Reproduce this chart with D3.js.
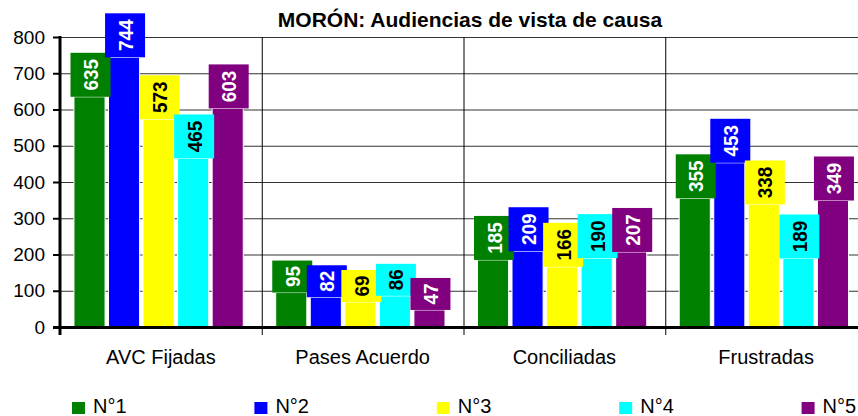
<!DOCTYPE html>
<html>
<head>
<meta charset="utf-8">
<script src="https://cdn.jsdelivr.net/npm/d3@7"></script>
<style>
  html, body { margin: 0; padding: 0; background: #fff; }
  svg { display: block; font-family: "Liberation Sans", Arial, sans-serif; }
</style>
</head>
<body>
<div id="chart"></div>
<script>
// MORÓN: Audiencias de vista de causa — grouped bars with boxed labels

const categories = ["AVC Fijadas", "Pases Acuerdo", "Conciliadas", "Frustradas"];
const seriesNames = ["N°1", "N°2", "N°3", "N°4", "N°5"];
const seriesColors = ["#008000", "#0000ff", "#ffff00", "#00ffff", "#800080"];
const labelColors = ["#fff", "#fff", "#000", "#000", "#fff"];
const values = [
    [635, 95, 185, 355],
    [744, 82, 209, 453],
    [573, 69, 166, 338],
    [465, 86, 190, 189],
    [603, 47, 207, 349],
];
const yTicks = [0, 100, 200, 300, 400, 500, 600, 700, 800];

const width = 858;
const height = 416;
const plot = { left: 60, right: 867, top: 37, bottom: 327 };

const svg = d3.select("#chart")
    .append("svg")
    .attr("width", width)
    .attr("height", height);

const x0 = d3.scaleBand()
    .domain(categories)
    .range([plot.left, plot.right])
    .paddingInner(0)
    .paddingOuter(0);

const x1 = d3.scaleBand()
    .domain(seriesNames)
    .range([0, x0.bandwidth()])
    .paddingInner(0.1)
    .paddingOuter(0.47)
    .align(0.43);

const y = d3.scaleLinear()
    .domain([0, 800])
    .range([plot.bottom, plot.top]);

// Horizontal gridlines
svg.append("g")
    .selectAll("line")
    .data(yTicks.filter((d) => d > 0))
    .join("line")
    .attr("x1", plot.left).attr("x2", width)
    .attr("y1", (d) => y(d) + 0.5).attr("y2", (d) => y(d) + 0.5)
    .attr("stroke", "#333")
    .attr("stroke-width", 1);

// Vertical category separators (x-axis ticks extended)
const bounds = categories.slice(1).map((c) => x0(c));
svg.append("g")
    .selectAll("line")
    .data(bounds)
    .join("line")
    .attr("x1", (d) => d + 0.5).attr("x2", (d) => d + 0.5)
    .attr("y1", plot.top).attr("y2", plot.bottom + 8)
    .attr("stroke", "#000")
    .attr("stroke-width", 1);

// Bars
const groups = svg.append("g")
    .selectAll("g")
    .data(seriesNames)
    .join("g")
    .attr("fill", (_, i) => seriesColors[i]);

groups.selectAll("rect")
    .data((s, i) => values[i].map((v, j) => ({ s, v, c: categories[j] })))
    .join("rect")
    .attr("x", (d) => x0(d.c) + x1(d.s))
    .attr("y", (d) => y(d.v))
    .attr("width", x1.bandwidth())
    .attr("height", (d) => y(0) - y(d.v))
    .attr("stroke", "#fff")
    .attr("stroke-width", 1);

// Boxed value labels (text rotated, slightly condensed like the original)
const boxW = 40;
seriesNames.forEach((s, i) => {
    values[i].forEach((v, j) => {
        const cx = x0(categories[j]) + x1(s) + x1.bandwidth() / 2 + 1;
        const top = y(v);
        const digits = String(v).length;
        const len = digits * 10.5;
        const boxH = digits * 12 + 8;
        const lbl = svg.append("g");
        lbl.append("rect")
            .attr("fill", seriesColors[i])
            .attr("x", cx - boxW / 2)
            .attr("y", top - boxH)
            .attr("width", boxW)
            .attr("height", boxH);
        lbl.append("text")
            .attr("font-size", 21)
            .attr("font-weight", "bold")
            .attr("fill", labelColors[i])
            .attr("text-anchor", "middle")
            .attr("textLength", len)
            .attr("lengthAdjust", "spacingAndGlyphs")
            .attr("transform", `translate(${cx + 7.5},${top - boxH / 2}) rotate(-90)`)
            .text(v);
    });
});

// Y axis
svg.append("g")
    .selectAll("line")
    .data(yTicks)
    .join("line")
    .attr("x1", plot.left - 7).attr("x2", plot.left)
    .attr("y1", (d) => y(d) + 0.5).attr("y2", (d) => y(d) + 0.5)
    .attr("stroke", "#000")
    .attr("stroke-width", 2);

svg.append("g")
    .selectAll("text")
    .data(yTicks)
    .join("text")
    .attr("x", 45)
    .attr("y", (d) => y(d))
    .attr("dy", "0.35em")
    .attr("text-anchor", "end")
    .attr("font-size", 19)
    .attr("fill", "#000")
    .text((d) => d);

svg.append("line")
    .attr("x1", plot.left).attr("x2", plot.left)
    .attr("y1", plot.top - 1).attr("y2", plot.bottom + 8)
    .attr("stroke", "#000")
    .attr("stroke-width", 3);

// X axis
svg.append("line")
    .attr("x1", plot.left - 7).attr("x2", width)
    .attr("y1", plot.bottom + 0.5).attr("y2", plot.bottom + 0.5)
    .attr("stroke", "#000")
    .attr("stroke-width", 3);

svg.append("g")
    .selectAll("text")
    .data(categories)
    .join("text")
    .attr("x", (d) => x0(d) + x0.bandwidth() / 2)
    .attr("y", 364)
    .attr("text-anchor", "middle")
    .attr("font-size", 20)
    .attr("fill", "#000")
    .text((d) => d);

// Title
svg.append("text")
    .attr("x", 470)
    .attr("y", 27)
    .attr("text-anchor", "middle")
    .attr("font-size", 21)
    .attr("font-weight", "bold")
    .attr("fill", "#000")
    .text("MORÓN: Audiencias de vista de causa");

// Legend
const legend = svg.append("g")
    .selectAll("g")
    .data(seriesNames)
    .join("g")
    .attr("transform", (_, i) => `translate(${72 + i * 182.4},402)`);

legend.append("rect")
    .attr("width", 13)
    .attr("height", 12)
    .attr("fill", (_, i) => seriesColors[i]);

legend.append("text")
    .attr("x", 21)
    .attr("y", 11)
    .attr("font-size", 20)
    .attr("fill", "#000")
    .text((d) => d);
</script>
</body>
</html>
